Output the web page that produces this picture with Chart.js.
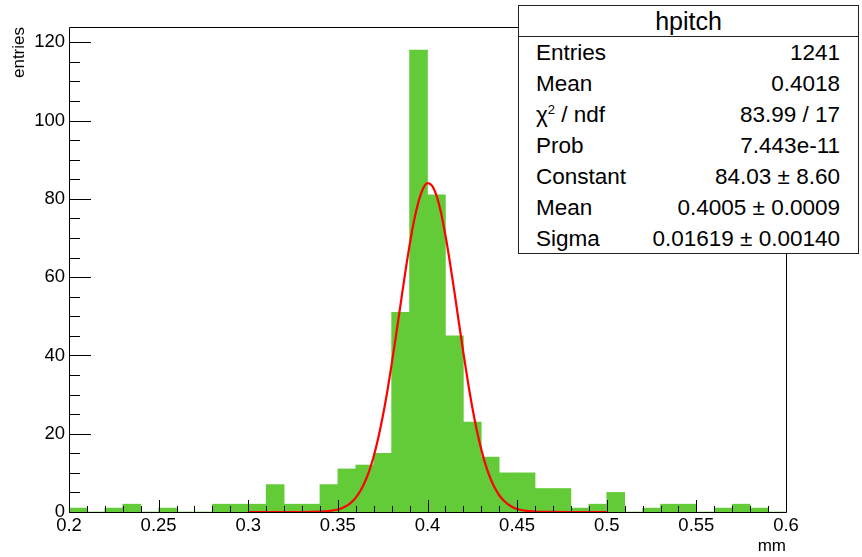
<!DOCTYPE html>
<html>
<head>
<meta charset="utf-8">
<script src="https://cdn.jsdelivr.net/npm/chart.js@4/dist/chart.umd.min.js"></script>
<style>
  html, body { margin: 0; padding: 0; background: #fff; }
  #wrap { position: relative; width: 862px; height: 557px; }
  #stats {
    position: absolute; left: 518px; top: 5px; width: 341px; height: 249px;
    box-sizing: border-box; border: 1.3px solid #222; background: #fff;
    font-family: "Liberation Sans", Arial, sans-serif; color: #000;
  }
  #stats .title { height: 30px; line-height: 30px; text-align: center; font-size: 25px; border-bottom: 1.3px solid #222; }
  #stats .row { display: flex; justify-content: space-between; height: 31px; line-height: 31px; font-size: 22.5px; padding: 0 18px 0 17px; }
  sup { font-size: 13px; line-height: 0; vertical-align: 8px; }
</style>
</head>
<body>
<div id="wrap">
  <canvas id="c" width="862" height="557"></canvas>
  <div id="stats"></div>
</div>
<script>
// ---- data ----
const binCenters = [0.205,0.215,0.225,0.235,0.245,0.255,0.265,0.275,0.285,0.295,
                    0.305,0.315,0.325,0.335,0.345,0.355,0.365,0.375,0.385,0.395,
                    0.405,0.415,0.425,0.435,0.445,0.455,0.465,0.475,0.485,0.495,
                    0.505,0.515,0.525,0.535,0.545,0.555,0.565,0.575,0.585,0.595];
const counts = [1,0,1,2,0,1,0,0,2,2,
                2,7,2,2,7,11,12,15,51,118,
                81,45,23,14,10,10,6,6,1,2,
                5,0,1,2,2,0,1,2,1,0];
const fitX = [0.300,0.310,0.320,0.330,0.335,0.340,0.345,0.350,0.3525,0.355,0.3575,0.360,0.3625,0.365,0.3675,
              0.370,0.3725,0.375,0.3775,0.380,0.3825,0.385,0.3875,0.390,0.3925,0.395,0.3975,0.400,0.4025,
              0.405,0.4075,0.410,0.4125,0.415,0.4175,0.420,0.4225,0.425,0.4275,0.430,0.4325,0.435,0.4375,
              0.440,0.4425,0.445,0.4475,0.450,0.455,0.460,0.465,0.470,0.480,0.490,0.500];
const fitY = [0,0,0,0,0.02,0.08,0.24,0.65,1.04,1.62,2.47,3.68,5.35,7.59,10.53,
              14.24,18.83,24.32,30.6,37.7,45.3,53.1,60.9,68.1,74.4,79.3,82.6,84.0,83.4,
              80.9,76.5,70.7,63.8,56.3,48.4,40.7,33.4,26.7,20.9,16.0,11.9,8.68,6.17,
              4.28,2.91,1.92,1.24,0.78,0.29,0.10,0.03,0.01,0,0,0];
const xTickValues = [0.2,0.25,0.3,0.35,0.4,0.45,0.5,0.55,0.6];
const yTickValues = [0,20,40,60,80,100,120];
const statsTitle = "hpitch";
const statsLabels = ["Entries","Mean","χ<sup>2</sup> / ndf","Prob","Constant","Mean","Sigma"];
const statsValues = ["1241","0.4018","83.99 / 17","7.443e-11","84.03 ± 8.60","0.4005 ± 0.0009","0.01619 ± 0.00140"];
// ---------------------------------------

const stats = document.getElementById('stats');
let html = '<div class="title">' + statsTitle + '</div>';
statsLabels.forEach((l, i) => {
  html += '<div class="row"><span>' + l + '</span><span>' + statsValues[i] + '</span></div>';
});
stats.innerHTML = html;

const FONT = '"Liberation Sans", Arial, sans-serif';
const X_MIN = 0.2, X_MAX = 0.6, Y_MAX = 123.9;

const rootAxes = {
  id: 'rootAxes',
  afterDatasetsDraw(chart) {
    const {ctx, chartArea: a, scales: {x, y}} = chart;
    ctx.save();
    ctx.strokeStyle = '#000';
    ctx.lineWidth = 1;
    ctx.beginPath();
    for (let i = 0; i <= 40; i++) {
      const v = X_MIN + i * 0.01;
      const px = Math.round(x.getPixelForValue(v)) + 0.5;
      const len = (i % 5 === 0) ? 12 : 6;
      ctx.moveTo(px, a.bottom);
      ctx.lineTo(px, a.bottom - len);
    }
    for (let i = 0; i * 5 <= Y_MAX; i++) {
      const py = Math.round(y.getPixelForValue(i * 5)) + 0.5;
      const len = (i % 4 === 0) ? 22 : 11;
      ctx.moveTo(a.left, py);
      ctx.lineTo(a.left + len, py);
    }
    ctx.stroke();
    ctx.beginPath();
    ctx.rect(a.left + 0.5, a.top + 0.5, a.right - a.left, a.bottom - a.top);
    ctx.stroke();
    ctx.restore();
  }
};

new Chart(document.getElementById('c'), {
  type: 'bar',
  data: {
    datasets: [
      {
        type: 'line',
        data: fitX.map((v, i) => ({x: v, y: fitY[i]})),
        borderColor: '#ff0000',
        borderWidth: 2.2,
        pointRadius: 0,
        cubicInterpolationMode: 'monotone',
        fill: false,
        order: 0
      },
      {
        type: 'bar',
        data: binCenters.map((v, i) => ({x: v, y: counts[i]})),
        backgroundColor: 'rgb(99,203,56)',
        borderWidth: 0,
        barPercentage: 1,
        categoryPercentage: 1,
        order: 1
      }
    ]
  },
  options: {
    responsive: false,
    animation: false,
    events: [],
    layout: { padding: { top: 27, right: 76, left: 0, bottom: 0 } },
    plugins: { legend: { display: false }, tooltip: { enabled: false } },
    scales: {
      x: {
        type: 'linear',
        min: X_MIN, max: X_MAX,
        offset: false,
        grid: { display: false, drawTicks: false, offset: false },
        border: { display: false },
        afterBuildTicks: s => { s.ticks = xTickValues.map(v => ({value: v})); },
        afterFit: s => { s.height = 45; },
        ticks: {
          autoSkip: false, maxRotation: 0, padding: 3,
          color: '#000', font: { family: FONT, size: 18.5 },
          callback: v => String(v)
        },
        title: {
          display: true, text: 'mm', align: 'end', color: '#000',
          font: { family: FONT, size: 17, lineHeight: 1.2 }, padding: { top: 0, bottom: 0 }
        }
      },
      y: {
        type: 'linear',
        min: 0, max: Y_MAX,
        grid: { display: false, drawTicks: false },
        border: { display: false },
        afterBuildTicks: s => { s.ticks = yTickValues.map(v => ({value: v})); },
        afterFit: s => { s.width = 69; },
        ticks: {
          autoSkip: false, padding: 4,
          color: '#000', font: { family: FONT, size: 18.5 },
          callback: v => String(v)
        },
        title: {
          display: true, text: 'entries', align: 'end', color: '#000',
          font: { family: FONT, size: 17, lineHeight: 1.2 }, padding: { top: 9, bottom: 0 }
        }
      }
    }
  },
  plugins: [rootAxes]
});
</script>
</body>
</html>
